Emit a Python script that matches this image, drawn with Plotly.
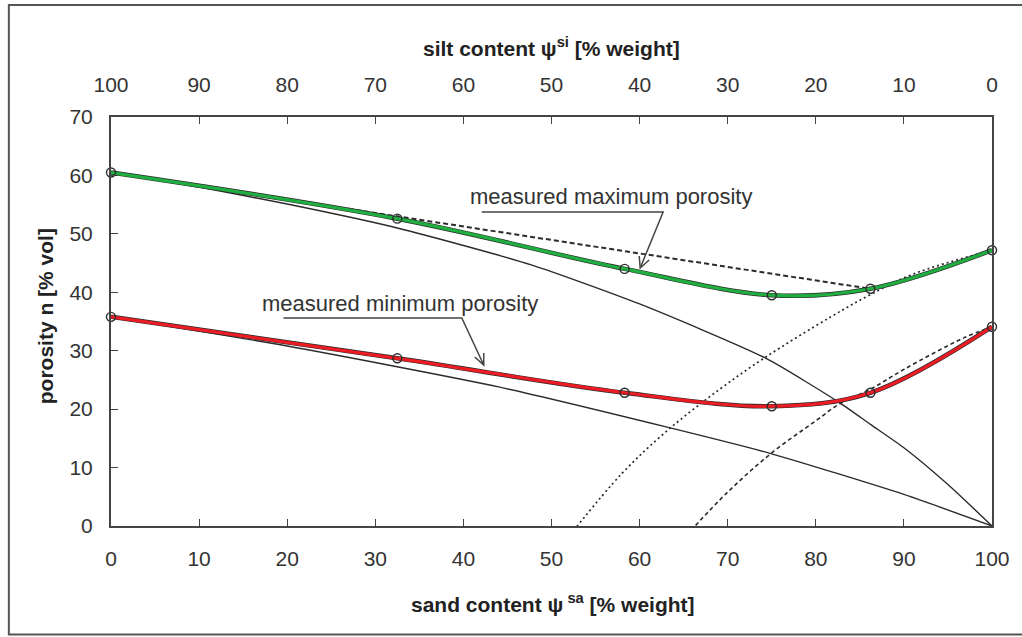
import plotly.graph_objects as go

# ---------------- data ----------------
sand_pts = [0, 32.5, 58.3, 75.0, 86.2, 100]
nmax_pts = [60.5, 52.6, 44.0, 39.5, 40.6, 47.2]
nmin_pts = [35.8, 28.7, 22.8, 20.5, 22.8, 34.1]

# theoretical curves
silt_max_x = [0, 10, 20, 32.5, 47.7, 60, 74.2, 82.8, 86.2, 90, 95, 100]
silt_max_y = [60.5, 58.0, 55.1, 51.0, 44.7, 38.0, 28.8, 21.0, 17.4, 13.4, 7.1, 0]

silt_min_x = [0, 20, 44, 62.9, 74.9, 90, 100]
silt_min_y = [35.8, 30.8, 23.8, 17.0, 12.4, 5.4, 0]

mix_max_x = [0, 86.2]
mix_max_y = [60.5, 40.6]

sand_max_x = [52.5, 58, 63.2, 69, 74.2, 81.7, 86.2, 91.2, 100]
sand_max_y = [-0.8, 9.0, 16.4, 23.3, 28.8, 35.8, 39.6, 43.2, 47.2]

sand_min_x = [65.8, 70, 74.9, 80, 82.8, 86.2, 90, 96.8, 100]
sand_min_y = [-0.8, 5.8, 12.4, 18.0, 21.0, 23.4, 26.8, 32.2, 34.1]

tick_vals = [0, 10, 20, 30, 40, 50, 60, 70, 80, 90, 100]
y_ticks = [0, 10, 20, 30, 40, 50, 60, 70]

# ---------------- layout geometry ----------------
W, H = 1022, 637
L, R, T, B = 111, 27, 117, 111
PW, PH = W - L - R, H - T - B


def px2x(px):
    return (px - L) / PW * 100


def px2y(py):
    return (H - B - py) / PH * 70


def ppx(px):
    return (px - L) / PW


def ppy(py):
    return (H - B - py) / PH


GREEN = "#1fae3f"
RED = "#ec1c24"
INK = "#2b2b2b"

fig = go.Figure()

# theoretical lines
fig.add_trace(go.Scatter(x=silt_max_x, y=silt_max_y, mode="lines",
                         line=dict(color=INK, width=1.4, shape="spline", smoothing=0.6),
                         hoverinfo="skip"))
fig.add_trace(go.Scatter(x=silt_min_x, y=silt_min_y, mode="lines",
                         line=dict(color=INK, width=1.4, shape="spline", smoothing=0.6),
                         hoverinfo="skip"))
fig.add_trace(go.Scatter(x=mix_max_x, y=mix_max_y, mode="lines",
                         line=dict(color=INK, width=2, dash="5px,3px"), hoverinfo="skip"))
fig.add_trace(go.Scatter(x=sand_max_x, y=sand_max_y, mode="lines",
                         line=dict(color=INK, width=1.7, dash="2px,3px", shape="spline"),
                         hoverinfo="skip"))
fig.add_trace(go.Scatter(x=sand_min_x, y=sand_min_y, mode="lines",
                         line=dict(color=INK, width=1.6, dash="4px,3px", shape="spline"),
                         hoverinfo="skip"))

# measured curves: black underlay + coloured line
for ys, col in ((nmax_pts, GREEN), (nmin_pts, RED)):
    fig.add_trace(go.Scatter(x=sand_pts, y=ys, mode="lines",
                             line=dict(color=INK, width=4.5, shape="spline", smoothing=1.0),
                             hoverinfo="skip"))
    fig.add_trace(go.Scatter(x=sand_pts, y=ys, mode="lines",
                             line=dict(color=col, width=3.2, shape="spline", smoothing=1.0),
                             hoverinfo="skip"))

# measured points
fig.add_trace(go.Scatter(x=sand_pts + sand_pts, y=nmax_pts + nmin_pts, mode="markers",
                         marker=dict(symbol="circle-open", size=9, color=INK,
                                     line=dict(width=1.4, color=INK)),
                         cliponaxis=False, hoverinfo="skip"))

# dummy trace for top axis
fig.add_trace(go.Scatter(x=[0, 100], y=[None, None], xaxis="x2", mode="lines",
                         hoverinfo="skip"))

tickfont = dict(family="Liberation Sans Narrow, Arial Narrow, Liberation Sans, Arial",
                size=21, color="#333333")
titlefont = dict(family="Liberation Sans Narrow, Arial Narrow, Liberation Sans, Arial",
                 size=21, color="#222222")

fig.update_layout(
    width=W, height=H,
    margin=dict(l=L, r=R, t=T, b=B, pad=0),
    paper_bgcolor="white", plot_bgcolor="white",
    showlegend=False,
    xaxis=dict(range=[0, 100], tickvals=tick_vals, ticks="inside", ticklen=7,
               tickcolor="#444", tickwidth=1.3, showline=True, linecolor="#444",
               linewidth=2, showgrid=False, zeroline=False, tickfont=tickfont,
               ticklabelstandoff=13),
    xaxis2=dict(range=[100, 0], overlaying="x", side="top", anchor="y",
                tickvals=tick_vals, ticks="inside", ticklen=7, tickcolor="#444",
                tickwidth=1.3, showline=True, linecolor="#444", linewidth=2,
                showgrid=False, zeroline=False, tickfont=tickfont,
                ticklabelstandoff=15),
    yaxis=dict(range=[0, 70], tickvals=y_ticks, ticks="inside", ticklen=7,
               tickcolor="#444", tickwidth=1.3, showline=True, linecolor="#444",
               linewidth=2, mirror=True, showgrid=False, zeroline=False,
               tickfont=tickfont, ticklabelstandoff=12),
)

# axis titles
fig.add_annotation(text="<b>sand content ψ<sup> sa</sup> [% weight]</b>",
                   xref="paper", yref="paper", x=ppx(555), y=ppy(603),
                   showarrow=False, font=titlefont, xanchor="center", yanchor="middle")
fig.add_annotation(text="<b>silt content ψ<sup>si</sup> [% weight]</b>",
                   xref="paper", yref="paper", x=ppx(553), y=ppy(47),
                   showarrow=False, font=titlefont, xanchor="center", yanchor="middle")
fig.add_annotation(text="<b>porosity n [% vol]</b>",
                   xref="paper", yref="paper", x=ppx(45), y=ppy(316), textangle=-90,
                   showarrow=False, font=titlefont, xanchor="center", yanchor="middle")

# labels with pointer lines
labfont = dict(family="Liberation Sans, Arial", size=22, color="#333333")
fig.add_annotation(text="measured maximum porosity", x=px2x(613), y=px2y(196),
                   showarrow=False, font=labfont, xanchor="center", yanchor="middle")
fig.add_annotation(text="measured minimum porosity", x=px2x(401), y=px2y(303),
                   showarrow=False, font=labfont, xanchor="center", yanchor="middle")


def pointer(pts, head):
    p = "M " + " L ".join(f"{px2x(a)},{px2y(b)}" for a, b in pts)
    h = "M " + " L ".join(f"{px2x(a)},{px2y(b)}" for a, b in head)
    fig.add_shape(type="path", path=p, xref="x", yref="y",
                  line=dict(color="#444", width=1.5))
    fig.add_shape(type="path", path=h, xref="x", yref="y",
                  line=dict(color="#444", width=1.5))


pointer([(483, 212), (665, 212), (642, 268)], [(651, 260), (642, 268), (641, 256)])
pointer([(284, 318), (463, 318), (485, 365)], [(485, 353), (485, 365), (476, 357)])

# outer frame of the figure
fig.add_shape(type="rect", xref="paper", yref="paper",
              x0=ppx(8.5), x1=ppx(1030), y0=ppy(634.5), y1=ppy(5),
              line=dict(color="#555", width=2), layer="below")

fig.write_html("out.html")
